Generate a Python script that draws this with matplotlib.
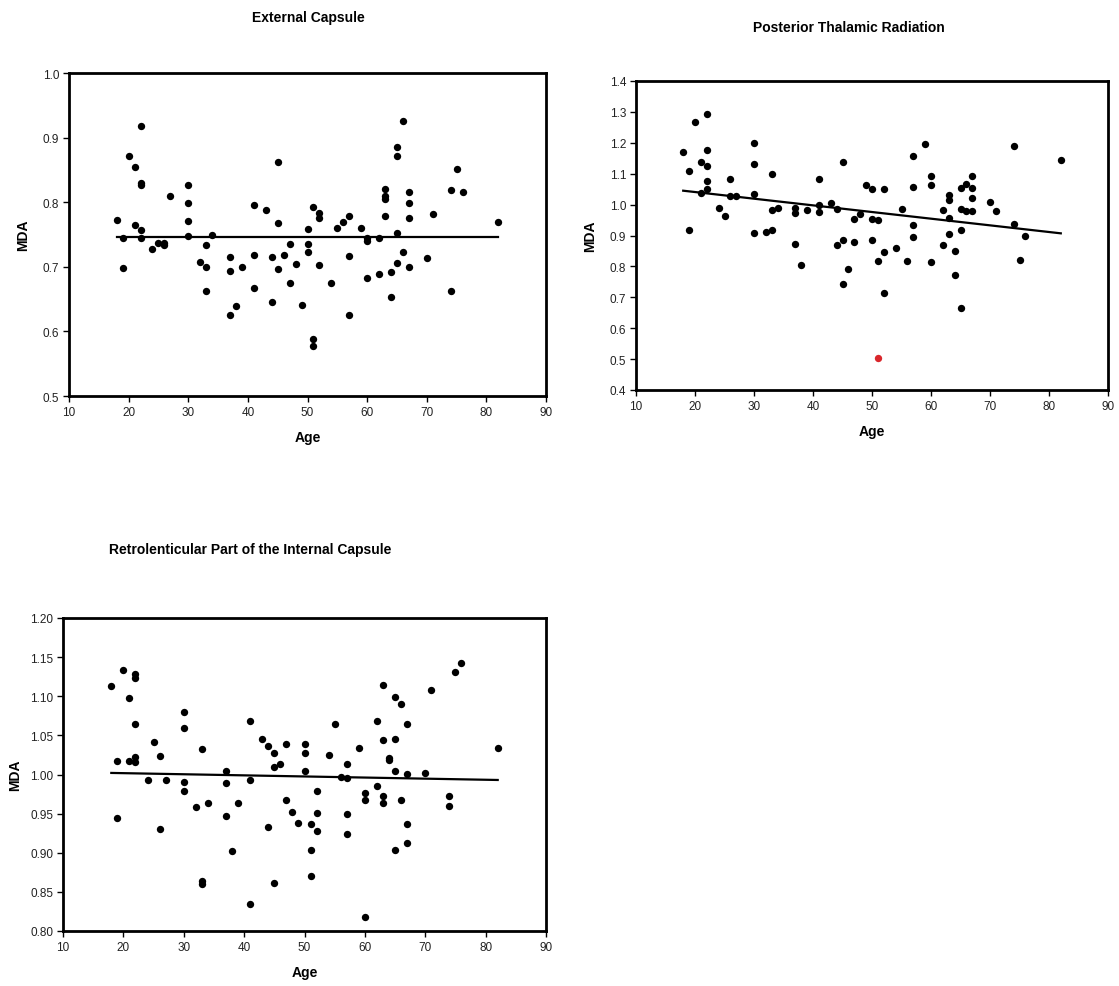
import numpy as np
import matplotlib
matplotlib.use("Agg")
import matplotlib.pyplot as plt
from matplotlib.ticker import FormatStrFormatter

plt.rcParams['font.family'] = ['Liberation Sans', 'DejaVu Sans']

# DATA ########################################################################

# External Capsule
ec_age = [18, 19, 19, 20, 21, 21, 22, 22, 22, 22, 22, 24, 25, 26, 26, 27, 30, 30, 30, 30,
          32, 33, 33, 33, 34, 37, 37, 37, 38, 39, 41, 41, 41, 43, 44, 44, 45, 45, 45, 46,
          47, 47, 48, 49, 50, 50, 50, 51, 51, 51, 52, 52, 52, 54, 55, 56, 57, 57, 57, 59,
          60, 60, 60, 62, 62, 63, 63, 63, 63, 64, 64, 65, 65, 65, 65, 66, 66, 67, 67, 67,
          67, 70, 71, 74, 74, 75, 76, 82]
ec_mda = [0.773, 0.744, 0.698, 0.871, 0.855, 0.765, 0.918, 0.830, 0.827, 0.757, 0.744, 0.727,
          0.737, 0.737, 0.734, 0.810, 0.827, 0.798, 0.771, 0.747, 0.708, 0.734, 0.700, 0.662,
          0.749, 0.715, 0.693, 0.626, 0.640, 0.699, 0.796, 0.719, 0.667, 0.788, 0.715, 0.645,
          0.863, 0.768, 0.696, 0.719, 0.736, 0.675, 0.704, 0.641, 0.758, 0.736, 0.723, 0.792,
          0.589, 0.578, 0.784, 0.775, 0.703, 0.675, 0.760, 0.770, 0.778, 0.716, 0.625, 0.760,
          0.744, 0.740, 0.683, 0.744, 0.689, 0.820, 0.809, 0.805, 0.779, 0.692, 0.653, 0.886,
          0.871, 0.753, 0.706, 0.926, 0.723, 0.816, 0.798, 0.775, 0.700, 0.714, 0.781, 0.819,
          0.663, 0.852, 0.816, 0.769]
ec_trend_x = [18, 82]
ec_trend_y = [0.746, 0.746]

# Posterior Thalamic Radiation
ptr_age = [18, 19, 19, 20, 21, 21, 22, 22, 22, 22, 22, 24, 25, 26, 26, 27, 30, 30, 30, 30,
           32, 33, 33, 33, 34, 37, 37, 37, 38, 39, 41, 41, 41, 43, 44, 44, 45, 45, 45, 46,
           47, 47, 48, 49, 50, 50, 50, 51, 51, 52, 52, 52, 54, 55, 56, 57, 57, 57, 57, 59,
           60, 60, 60, 62, 62, 63, 63, 63, 63, 64, 64, 65, 65, 65, 65, 66, 66, 67, 67, 67,
           67, 70, 71, 74, 74, 75, 76, 82]
ptr_mda = [1.171, 1.110, 0.918, 1.267, 1.138, 1.038, 1.292, 1.178, 1.124, 1.075, 1.052, 0.989,
           0.963, 1.083, 1.029, 1.028, 1.198, 1.132, 1.035, 0.909, 0.911, 1.098, 0.981, 0.918,
           0.988, 0.990, 0.973, 0.871, 0.803, 0.982, 1.083, 0.999, 0.977, 1.006, 0.986, 0.869,
           1.138, 0.886, 0.744, 0.790, 0.878, 0.955, 0.969, 1.063, 1.052, 0.953, 0.886, 0.951,
           0.819, 1.049, 0.847, 0.713, 0.858, 0.987, 0.819, 1.158, 1.058, 0.934, 0.896, 1.195,
           1.094, 1.062, 0.814, 0.984, 0.868, 1.030, 1.014, 0.958, 0.904, 0.850, 0.773, 1.053,
           0.987, 0.918, 0.664, 1.068, 0.979, 1.094, 1.053, 1.022, 0.979, 1.010, 0.978, 1.190,
           0.938, 0.822, 0.900, 1.145]
ptr_outlier_age = [51]
ptr_outlier_mda = [0.502]
ptr_trend_x = [18, 82]
ptr_trend_y = [1.045, 0.907]

# Retrolenticular Part of the Internal Capsule
rlic_age = [18, 19, 19, 20, 21, 21, 22, 22, 22, 22, 22, 24, 25, 26, 26, 27, 30, 30, 30, 30,
            32, 33, 33, 33, 34, 37, 37, 37, 38, 39, 41, 41, 41, 43, 44, 44, 45, 45, 45, 46,
            47, 47, 48, 49, 50, 50, 50, 51, 51, 51, 52, 52, 52, 54, 55, 56, 57, 57, 57, 57,
            59, 60, 60, 60, 62, 62, 63, 63, 63, 63, 64, 64, 65, 65, 65, 65, 66, 66, 67, 67,
            67, 67, 70, 71, 74, 74, 75, 76, 82]
rlic_mda = [1.113, 1.017, 0.944, 1.134, 1.098, 1.017, 1.128, 1.123, 1.065, 1.023, 1.016, 0.993,
            1.042, 1.024, 0.930, 0.993, 1.080, 1.059, 0.990, 0.979, 0.959, 1.032, 0.864, 0.860,
            0.964, 1.004, 0.989, 0.947, 0.902, 0.964, 1.068, 0.993, 0.835, 1.045, 1.036, 0.933,
            1.028, 1.009, 0.861, 1.013, 1.039, 0.967, 0.952, 0.938, 1.039, 1.028, 1.004, 0.937,
            0.904, 0.870, 0.979, 0.951, 0.928, 1.025, 1.065, 0.997, 1.013, 0.995, 0.950, 0.924,
            1.034, 0.976, 0.967, 0.818, 1.068, 0.985, 1.114, 1.044, 0.973, 0.964, 1.021, 1.019,
            1.099, 1.046, 1.004, 0.904, 1.090, 0.968, 1.065, 1.001, 0.937, 0.912, 1.002, 1.108,
            0.973, 0.960, 1.131, 1.143, 1.034]
rlic_trend_x = [18, 82]
rlic_trend_y = [1.002, 0.993]

x_ticks = [10, 20, 30, 40, 50, 60, 70, 80, 90]

# FIGURE ######################################################################

W, H = 1119, 987
fig = plt.figure(figsize=(W / 100, H / 100), dpi=100)


def axes_px(left, top, right, bottom):
    return fig.add_axes([left / W, (H - bottom) / H, (right - left) / W, (bottom - top) / H])


def style(ax, ylim, yticks, yfmt, ylabelpad=9):
    ax.set_xlim(10, 90)
    ax.set_ylim(*ylim)
    ax.set_xticks(x_ticks)
    ax.set_yticks(yticks)
    ax.yaxis.set_major_formatter(FormatStrFormatter(yfmt))
    for s in ax.spines.values():
        s.set_linewidth(2.0)
        s.set_color('black')
    ax.tick_params(direction='out', length=4, width=1, labelsize=8.5,
                   colors='black', labelcolor='#222222', pad=3)
    ax.set_xlabel("Age", fontsize=10, fontweight='bold', labelpad=9)
    ax.set_ylabel("MDA", fontsize=10, fontweight='bold', labelpad=ylabelpad)


def panel(ax, age, mda, tx, ty):
    ax.scatter(age, mda, s=28, color='black', zorder=3, linewidths=0)
    ax.plot(tx, ty, color='black', linewidth=1.6, zorder=2)


# External Capsule
ax1 = axes_px(69, 74, 546, 397)
panel(ax1, ec_age, ec_mda, ec_trend_x, ec_trend_y)
style(ax1, (0.5, 1.0), np.arange(0.5, 1.01, 0.1), '%.1f')
fig.text(308 / W, 1 - 18 / H, "External Capsule", ha='center', va='center',
         fontsize=10, fontweight='bold')

# Posterior Thalamic Radiation
ax2 = axes_px(636, 82, 1108, 391)
panel(ax2, ptr_age, ptr_mda, ptr_trend_x, ptr_trend_y)
ax2.scatter(ptr_outlier_age, ptr_outlier_mda, s=28, color='#d9262b', zorder=3, linewidths=0)
style(ax2, (0.4, 1.4), np.arange(0.4, 1.41, 0.1), '%.1f')
fig.text(849 / W, 1 - 28 / H, "Posterior Thalamic Radiation", ha='center', va='center',
         fontsize=10, fontweight='bold')

# Retrolenticular Part of the Internal Capsule
ax3 = axes_px(63, 619, 546, 932)
panel(ax3, rlic_age, rlic_mda, rlic_trend_x, rlic_trend_y)
style(ax3, (0.8, 1.2), np.arange(0.80, 1.201, 0.05), '%.2f', ylabelpad=6)
fig.text(250 / W, 1 - 550 / H, "Retrolenticular Part of the Internal Capsule",
         ha='center', va='center', fontsize=10, fontweight='bold')

plt.savefig("out.png", dpi=100)
